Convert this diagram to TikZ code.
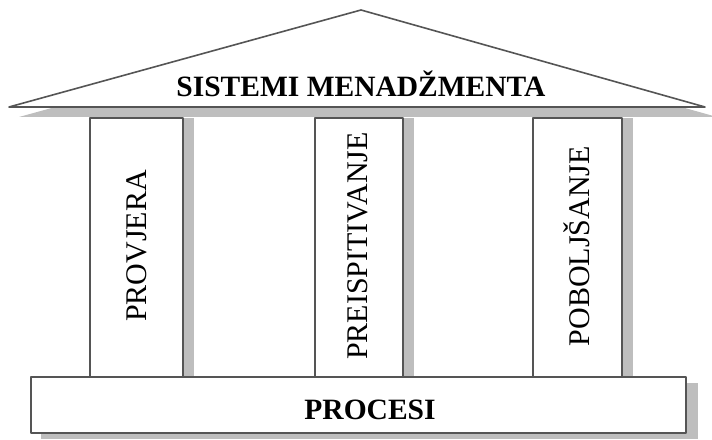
\documentclass[tikz,border=0pt]{standalone}
\usepackage{fontspec}
\setmainfont{Liberation Serif}
\definecolor{edge}{HTML}{555555}
\definecolor{shade}{HTML}{BEBEBE}
\begin{document}
\begin{tikzpicture}[x=1pt,y=1pt,
  outline/.style={draw=edge,line width=1.6pt,fill=white,line join=round},
  shadow/.style={fill=shade,draw=none},
  pillarlabel/.style={rotate=90,font=\fontsize{30}{32}\selectfont,inner sep=0pt},
  titlelabel/.style={font=\fontsize{29.5}{31}\selectfont\bfseries,inner sep=0pt}]
\useasboundingbox (0,0) rectangle (712,439);
% roof and its shadow
\fill[shadow] (19,322) -- (371,419) -- (717,322) -- cycle;
\draw[outline] (9,332) -- (361,429) -- (705,332) -- cycle;
\node[titlelabel] (roof) at (361,355) {SISTEMI MENADŽMENTA};
% pillars with their shadows
\foreach \l/\r/\name in {90/183/p1, 315/403/p2, 533/622/p3} {
  \fill[shadow] (\r,60) rectangle (\r+11,321);
  \draw[outline] (\l,60) rectangle (\r,321);
}
\node[pillarlabel] (provjera) at (137,193) {PROVJERA};
\node[pillarlabel] (preisp) at (358,193) {PREISPITIVANJE};
\node[pillarlabel] (pobolj) at (577,193) {POBOLJŠANJE};
% base and its shadow
\fill[shadow] (41,0) rectangle (698,56);
\draw[outline] (31,6) rectangle (686,62);
\node[titlelabel] (base) at (370,29) {PROCESI};
\end{tikzpicture}
\end{document}
